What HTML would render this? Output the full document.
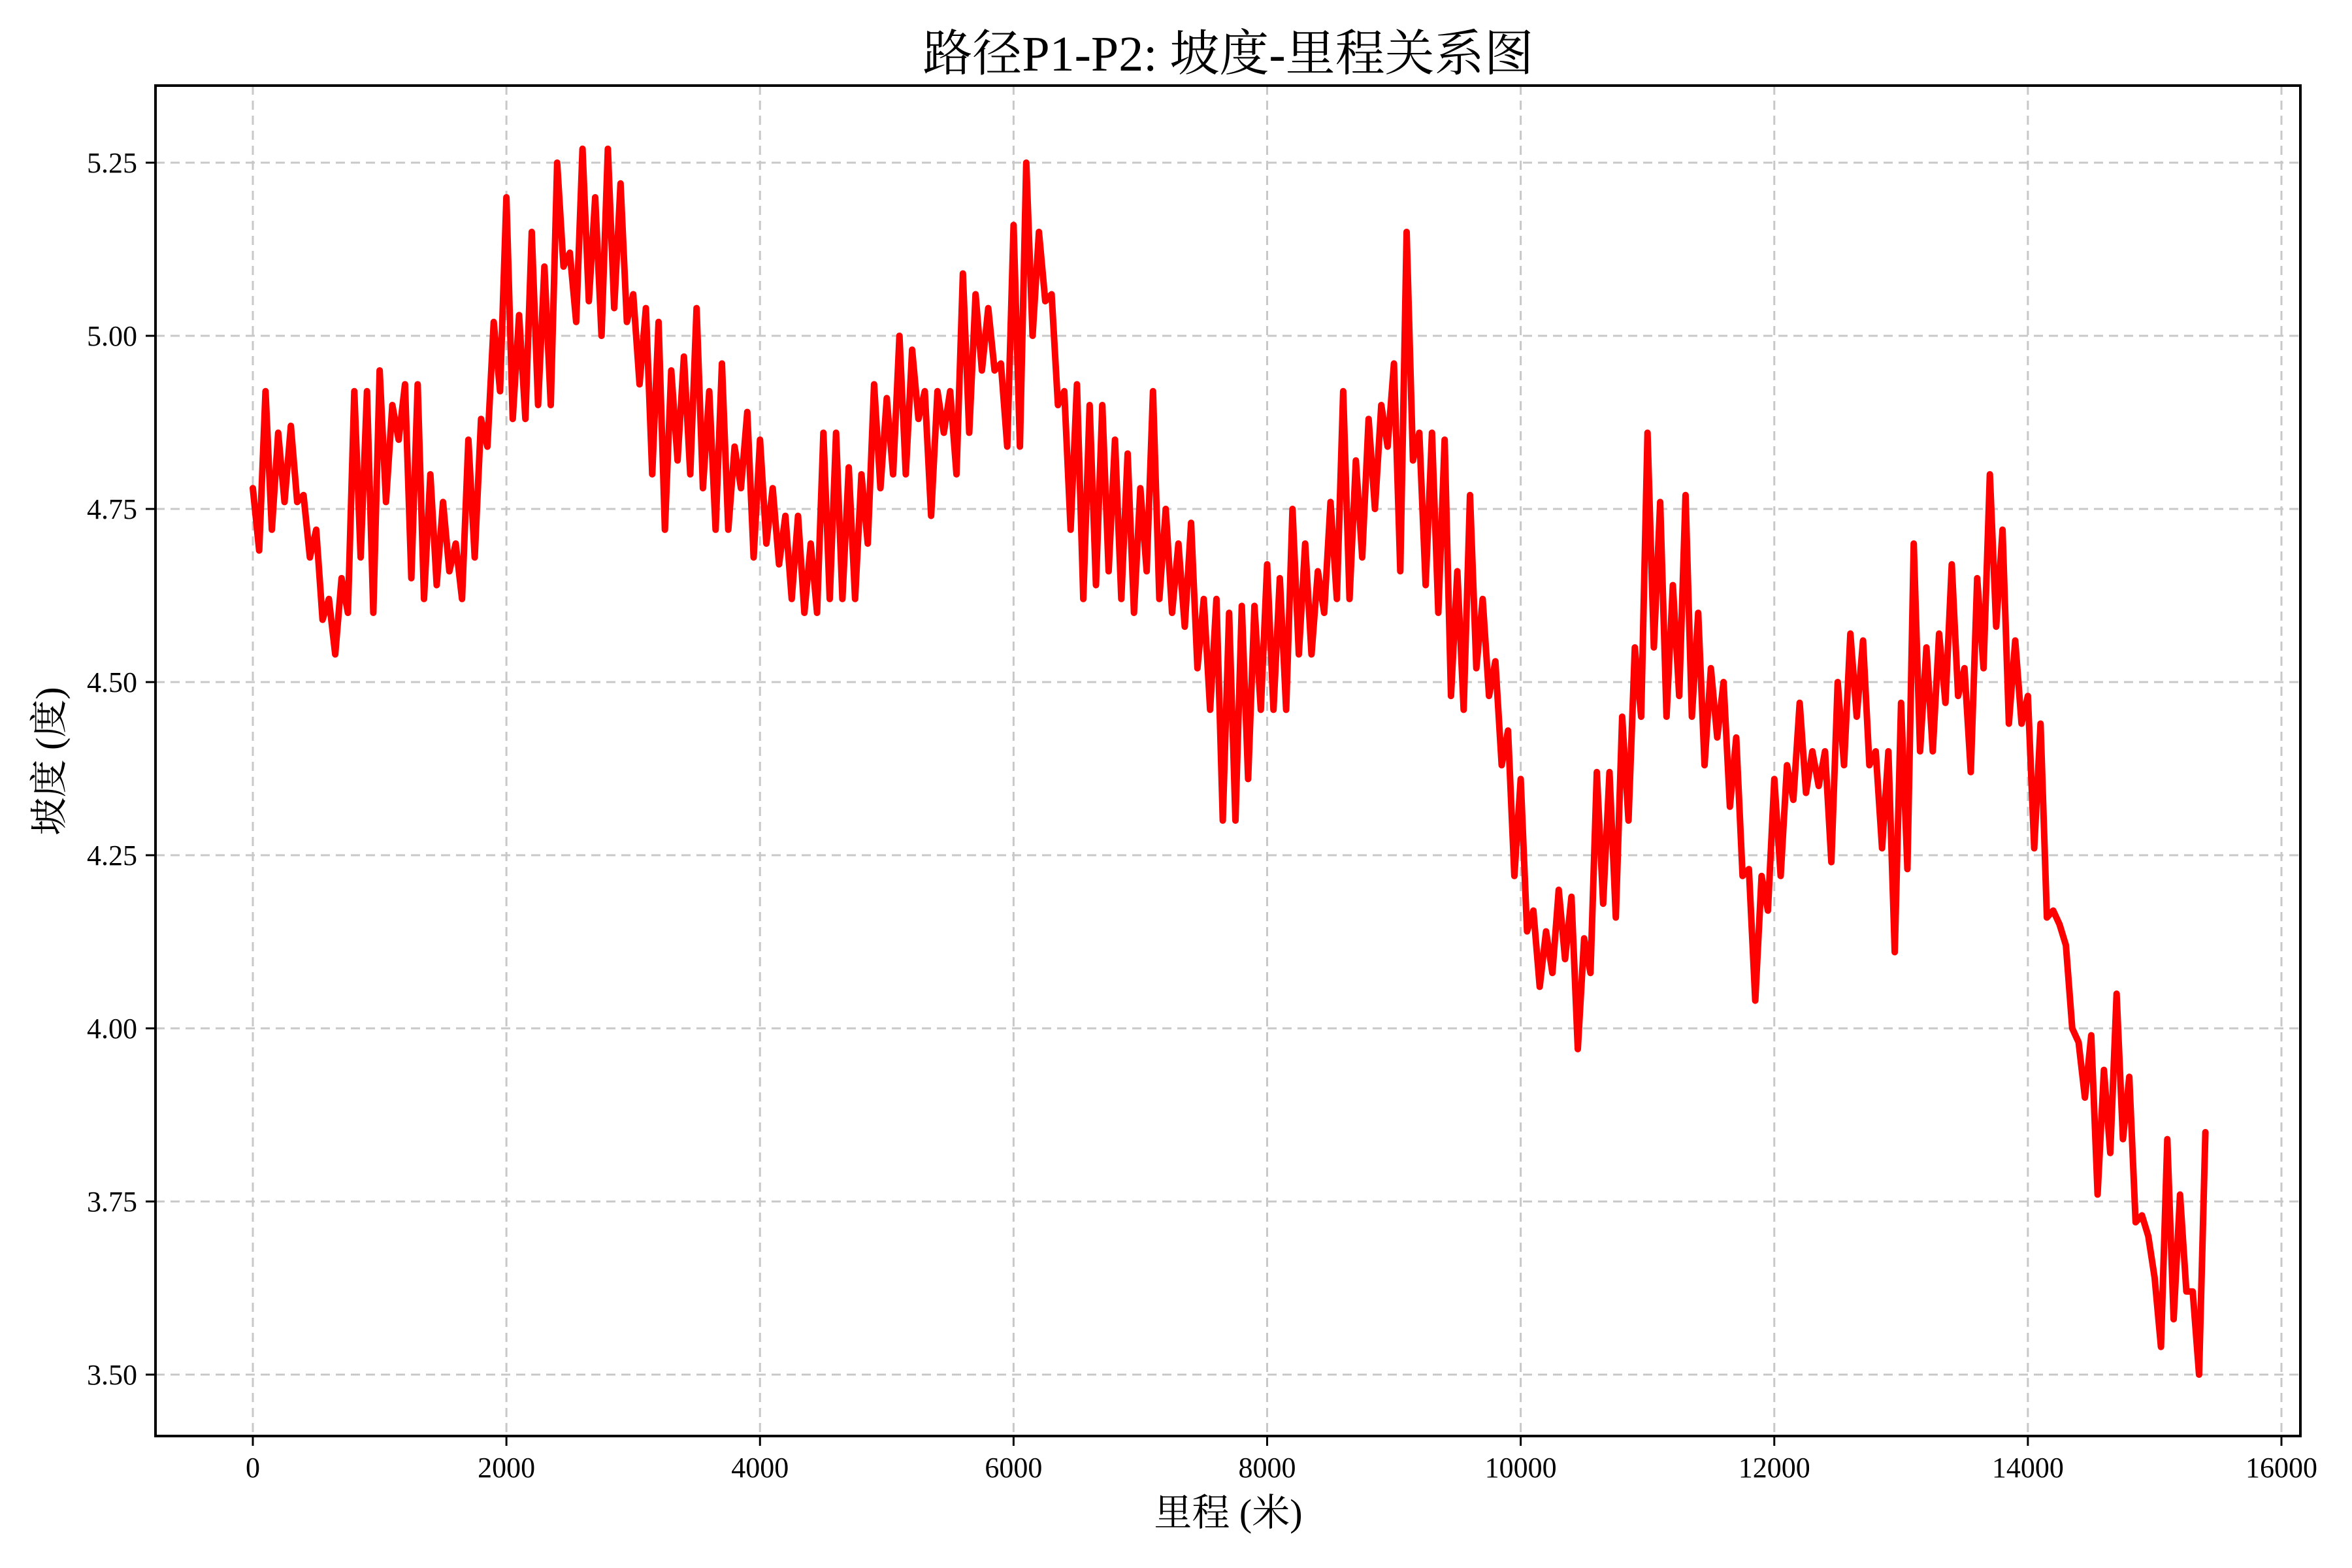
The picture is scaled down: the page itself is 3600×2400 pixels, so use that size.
<!DOCTYPE html>
<html><head><meta charset="utf-8"><style>
html,body{margin:0;padding:0;background:#fff;}
svg{display:block;}
text{font-family:"Liberation Serif","Noto Serif CJK SC",serif;fill:#000;}
</style></head><body>
<svg id="chart" width="3600" height="2400" viewBox="0 0 3600 2400" xmlns="http://www.w3.org/2000/svg">
<rect x="0" y="0" width="3600" height="2400" fill="#fff"/>
<text x="1880" y="108" font-size="76" text-anchor="middle">路径P1-P2: 坡度-里程关系图</text>
<g id="grid"></g>
<g id="series"></g>
<rect x="238" y="131" width="3283" height="2067" fill="none" stroke="#000" stroke-width="4"/>
<g id="axes"></g>
<text x="1880" y="2335" font-size="58" text-anchor="middle">里程 (米)</text>
<text transform="translate(95,1165) rotate(-90)" font-size="58" text-anchor="middle">坡度 (度)</text>
</svg>
<script>
const xTicks = [0,2000,4000,6000,8000,10000,12000,14000,16000];
const yTicks = [3.50,3.75,4.00,4.25,4.50,4.75,5.00,5.25];
const stepMeters = 50;
const slopeValues = [
4.78,4.69, 4.92,4.72, 4.86,4.76, 4.87,4.76, 4.77,4.68,
4.72,4.59, 4.62,4.54, 4.65,4.60, 4.92,4.68, 4.92,4.60,
4.95,4.76, 4.90,4.85, 4.93,4.65, 4.93,4.62, 4.80,4.64,
4.76,4.66, 4.70,4.62, 4.85,4.68, 4.88,4.84, 5.02,4.92,
5.20,4.88, 5.03,4.88, 5.15,4.90, 5.10,4.90, 5.25,5.10,
5.12,5.02, 5.27,5.05, 5.20,5.00, 5.27,5.04, 5.22,5.02,
5.06,4.93, 5.04,4.80, 5.02,4.72, 4.95,4.82, 4.97,4.80,
5.04,4.78, 4.92,4.72, 4.96,4.72, 4.84,4.78, 4.89,4.68,
4.85,4.70, 4.78,4.67, 4.74,4.62, 4.74,4.60, 4.70,4.60,
4.86,4.62, 4.86,4.62, 4.81,4.62, 4.80,4.70, 4.93,4.78,
4.91,4.80, 5.00,4.80, 4.98,4.88, 4.92,4.74, 4.92,4.86,
4.92,4.80, 5.09,4.86, 5.06,4.95, 5.04,4.95, 4.96,4.84,
5.16,4.84, 5.25,5.00, 5.15,5.05, 5.06,4.90, 4.92,4.72,
4.93,4.62, 4.90,4.64, 4.90,4.66, 4.85,4.62, 4.83,4.60,
4.78,4.66, 4.92,4.62, 4.75,4.60, 4.70,4.58, 4.73,4.52,
4.62,4.46, 4.62,4.30, 4.60,4.30, 4.61,4.36, 4.61,4.46,
4.67,4.46, 4.65,4.46, 4.75,4.54, 4.70,4.54, 4.66,4.60,
4.76,4.62, 4.92,4.62, 4.82,4.68, 4.88,4.75, 4.90,4.84,
4.96,4.66, 5.15,4.82, 4.86,4.64, 4.86,4.60, 4.85,4.48,
4.66,4.46, 4.77,4.52, 4.62,4.48, 4.53,4.38, 4.43,4.22,
4.36,4.14, 4.17,4.06, 4.14,4.08, 4.20,4.10, 4.19,3.97,
4.13,4.08, 4.37,4.18, 4.37,4.16, 4.45,4.30, 4.55,4.45,
4.86,4.55, 4.76,4.45, 4.64,4.48, 4.77,4.45, 4.60,4.38,
4.52,4.42, 4.50,4.32, 4.42,4.22, 4.23,4.04, 4.22,4.17,
4.36,4.22, 4.38,4.33, 4.47,4.34, 4.40,4.35, 4.40,4.24,
4.50,4.38, 4.57,4.45, 4.56,4.38, 4.40,4.26, 4.40,4.11,
4.47,4.23, 4.70,4.40, 4.55,4.40, 4.57,4.47, 4.67,4.48,
4.52,4.37, 4.65,4.52, 4.80,4.58, 4.72,4.44, 4.56,4.44,
4.48,4.26, 4.44,4.16, 4.17,4.15, 4.12,4.00, 3.98,3.90,
3.99,3.76, 3.94,3.82, 4.05,3.84, 3.93,3.72, 3.73,3.70,
3.64,3.54, 3.84,3.58, 3.76,3.62, 3.62,3.50,
3.85
];
const NS='http://www.w3.org/2000/svg';
function xs(v){return 387+(v-0)*(3492-387)/16000;}
function ys(v){return 249+(5.25-v)*(2104-249)/1.75;}
function mk(tag,attrs,parent){const e=document.createElementNS(NS,tag);for(const k in attrs)e.setAttribute(k,attrs[k]);parent.appendChild(e);return e;}
const grid=document.getElementById('grid'),axes=document.getElementById('axes'),series=document.getElementById('series');
xTicks.forEach(t=>{
  const x=xs(t);
  const g=mk('line',{x1:x,x2:x,y1:131,y2:2198,stroke:'#c8c8c8','stroke-width':3,'stroke-dasharray':'14 9'},grid);
  
  
  const tk=mk('line',{x1:x,x2:x,y1:2198,y2:2213,stroke:'#000','stroke-width':3},axes);
  
  
  const lb=mk('text',{x:x,y:2261,'font-size':44,'text-anchor':'middle'},axes);
  lb.textContent=String(t);
  
  
});
yTicks.forEach(t=>{
  const y=ys(t);
  const g=mk('line',{x1:238,x2:3521,y1:y,y2:y,stroke:'#c8c8c8','stroke-width':3,'stroke-dasharray':'14 9'},grid);
  
  
  const tk=mk('line',{x1:223,x2:238,y1:y,y2:y,stroke:'#000','stroke-width':3},axes);
  
  
  const lb=mk('text',{x:210,y:y+15,'font-size':44,'text-anchor':'end'},axes);
  lb.textContent=t.toFixed(2);
  
  
});
const pts=slopeValues.map((v,i)=>xs(i*stepMeters).toFixed(1)+','+ys(v).toFixed(1)).join(' ');
const line=mk('polyline',{points:pts,fill:'none',stroke:'#ff0000','stroke-width':10,'stroke-linejoin':'round','stroke-linecap':'round'},series);


</script>
</body></html>
